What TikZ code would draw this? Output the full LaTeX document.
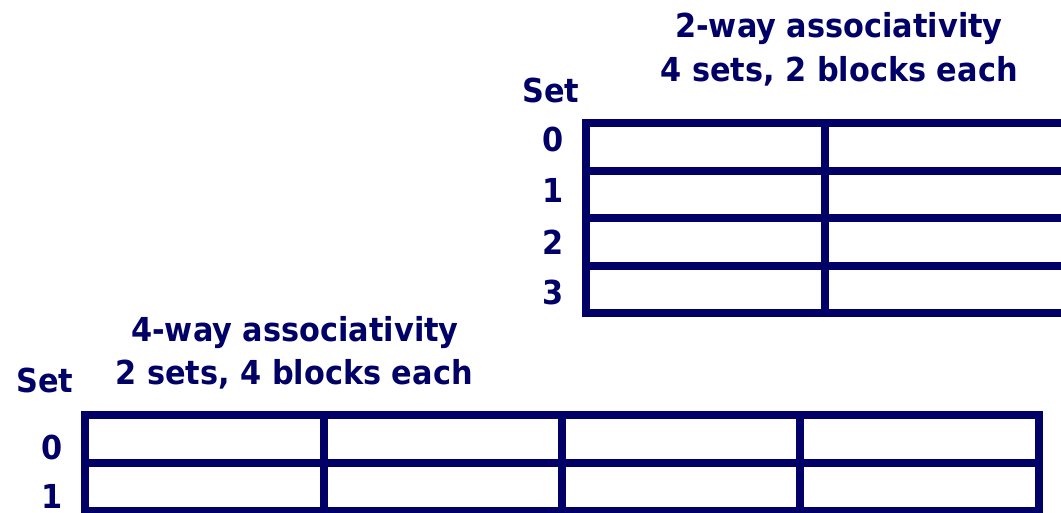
\documentclass[tikz,border=0pt]{standalone}
\usepackage{fontspec}
\setmainfont{DejaVu Sans}
\definecolor{navy}{HTML}{000066}
\newcommand{\sqz}[1]{\scalebox{0.92}[1]{#1}}
\begin{document}
\begin{tikzpicture}[x=1pt,y=-1pt,
  lbl/.style={font=\bfseries\fontsize{33}{36}\selectfont, text=navy, inner sep=0pt, anchor=base},
  gridline/.style={draw=navy, line width=7.5pt}]
\useasboundingbox (0,0) rectangle (1061,512);
\clip (0,0) rectangle (1061,512);
% top grid (2-way)
\draw[gridline] (586,123) rectangle (1075,313);
\draw[gridline] (586,171) -- (1075,171);
\draw[gridline] (586,218) -- (1075,218);
\draw[gridline] (586,266) -- (1075,266);
\draw[gridline] (825,123) -- (825,313);
% bottom grid (4-way)
\draw[gridline] (85,415) rectangle (1039,511);
\draw[gridline] (85,463) -- (1039,463);
\draw[gridline] (324,415) -- (324,511);
\draw[gridline] (562,415) -- (562,511);
\draw[gridline] (800,415) -- (800,511);
% top labels
\node[lbl] (t1) at (839,37) {\sqz{2-way associativity}};
\node[lbl] (t2) at (839,81) {\sqz{4 sets, 2 blocks each}};
\node[lbl] (tset) at (551,102) {\sqz{Set}};
\node[lbl] (t0) at (553,151) {\sqz{0}};
\node[lbl] (tr1) at (553,202) {\sqz{1}};
\node[lbl] (tr2) at (553,254) {\sqz{2}};
\node[lbl] (tr3) at (553,304) {\sqz{3}};
% bottom labels
\node[lbl] (b1) at (295,341) {\sqz{4-way associativity}};
\node[lbl] (b2) at (294,384) {\sqz{2 sets, 4 blocks each}};
\node[lbl] (bset) at (45,392) {\sqz{Set}};
\node[lbl] (b0) at (52,459) {\sqz{0}};
\node[lbl] (br1) at (52,508) {\sqz{1}};
\end{tikzpicture}
\end{document}
